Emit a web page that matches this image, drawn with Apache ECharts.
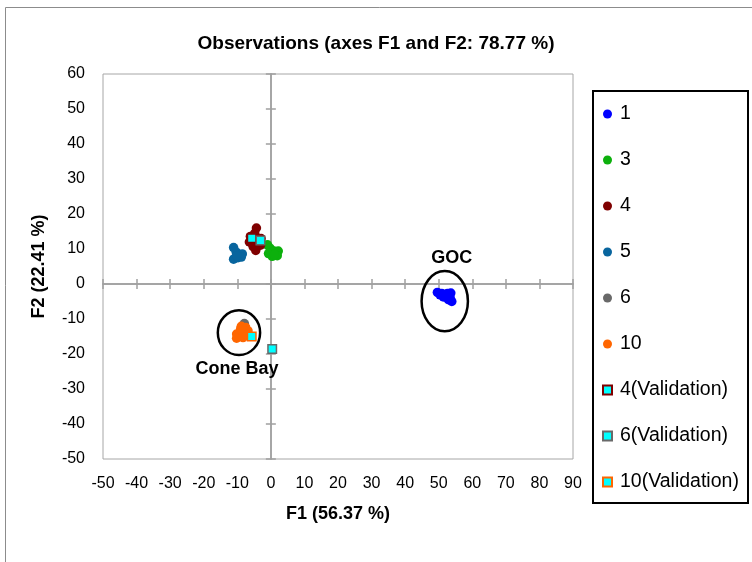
<!DOCTYPE html>
<html>
<head>
<meta charset="utf-8">
<script src="https://cdn.jsdelivr.net/npm/echarts@6/dist/echarts.min.js"></script>
<style>
  html, body { margin: 0; padding: 0; background: #fff; }
  #chart { width: 752px; height: 562px; }
</style>
</head>
<body>
<div id="chart"></div>
<script>
// Axis ranges (PCA factor scores)
const xRange = [-50, 90];
const yRange = [-50, 60];
const tickStep = 10;

// Series names, in legend order
const seriesNames = ['1', '3', '4', '5', '6', '10', '4(Validation)', '6(Validation)', '10(Validation)'];

// Observations: [F1, F2]
const obs1 = [[49.6, -2.4], [50.4, -3.1], [51.4, -3.7], [52.6, -2.7], [53.6, -2.6], [53.4, -3.9], [53.9, -5.0], [52.9, -4.5], [52.1, -3.4], [50.9, -2.7]];
const obs3 = [[-1.0, 11.2], [-0.2, 10.2], [0.9, 9.4], [2.2, 9.4], [1.9, 8.1], [0.4, 7.9], [-0.7, 8.7], [1.0, 8.4]];
const obs4 = [[-4.3, 16.0], [-4.8, 14.5], [-6.1, 13.6], [-6.4, 12.0], [-5.3, 10.7], [-4.5, 9.6], [-3.1, 11.1], [-2.9, 13.0], [-4.6, 12.2]];
const obs5 = [[-11.1, 10.4], [-10.3, 9.1], [-11.1, 7.1], [-9.8, 7.5], [-8.5, 8.6], [-8.8, 7.7], [-10.2, 8.1]];
const obs6 = [[-7.9, -11.3], [-8.8, -13.5], [-7.6, -14.6]];
const obs10 = [[-8.8, -12.1], [-7.5, -12.4], [-6.8, -13.4], [-10.2, -14.3], [-9.1, -13.9], [-10.2, -15.5], [-8.3, -15.3], [-7.5, -14.3], [-9.0, -12.8]];
const val4 = [[-5.7, 13.1]];
const val6 = [[-3.1, 12.4], [0.4, -18.6]];
const val10 = [[-5.7, -15.0]];

// Group annotations: ellipse centre and radii in F1/F2 units, plus label anchor
const groupNames = ['GOC', 'Cone Bay'];
const groupCentres = [[51.8, -4.9], [-9.5, -13.9]];
const groupRadii = [[6.9, 8.6], [6.3, 6.4]];
const groupLabelAt = [[53.9, 7.4], [-10.1, -24.3]];

const FONT = 'Liberation Sans';
const GRID = { left: 103, top: 74, width: 470, height: 385 };
const ZERO_LINE = '#a0a0a0';

function rangeAxis(range, extra) {
  return Object.assign({
    type: 'value', min: range[0], max: range[1], interval: tickStep,
    splitLine: { show: false }
  }, extra);
}

// Axes that carry the cross ticks on the zero lines
function zeroAxis(grid, pos, range) {
  return rangeAxis(range, {
    gridIndex: grid, position: pos,
    axisLine: { show: true, onZero: true, lineStyle: { color: ZERO_LINE, width: 1.5 } },
    axisTick: { show: true, length: 5, lineStyle: { color: ZERO_LINE, width: 1.5 } },
    axisLabel: { show: false }
  });
}

const circle = (name, data, color) => ({
  name, type: 'scatter', data, symbol: 'circle', symbolSize: 9.5,
  xAxisIndex: 0, yAxisIndex: 0,
  itemStyle: { color, opacity: 1 }
});
const square = (name, data, border) => ({
  name, type: 'scatter', data, symbol: 'rect', symbolSize: 8.5,
  xAxisIndex: 0, yAxisIndex: 0,
  itemStyle: { color: '#00ffff', borderColor: border, borderWidth: 1.5, opacity: 1 }
});

const chart = echarts.init(document.getElementById('chart'), null, { renderer: 'canvas' });

chart.setOption({
  animation: false,
  backgroundColor: '#ffffff',
  textStyle: { fontFamily: FONT },
  title: {
    text: 'Observations (axes F1 and F2: 78.77 %)',
    left: 'center', top: 34, padding: 0,
    textStyle: { fontFamily: FONT, fontSize: 19, fontWeight: 'bold', color: '#000' }
  },
  grid: [
    Object.assign({ show: true, borderColor: '#a6a6a6', borderWidth: 1, backgroundColor: 'transparent' }, GRID),
    Object.assign({}, GRID),
    Object.assign({}, GRID)
  ],
  xAxis: [
    rangeAxis(xRange, {
      gridIndex: 0, position: 'bottom',
      name: 'F1 (56.37 %)', nameLocation: 'middle', nameGap: 46,
      nameTextStyle: { fontFamily: FONT, fontSize: 18, fontWeight: 'bold', color: '#000' },
      axisLine: { show: false, onZero: false },
      axisTick: { show: false },
      axisLabel: { margin: 17, fontFamily: FONT, fontSize: 16, color: '#000' }
    }),
    zeroAxis(1, 'bottom', xRange),
    zeroAxis(2, 'top', xRange)
  ],
  yAxis: [
    rangeAxis(yRange, {
      gridIndex: 0, position: 'left',
      name: 'F2 (22.41 %)', nameLocation: 'middle', nameGap: 55,
      nameTextStyle: { fontFamily: FONT, fontSize: 18, fontWeight: 'bold', color: '#000' },
      axisLine: { show: false, onZero: false },
      axisTick: { show: false },
      axisLabel: { margin: 18, fontFamily: FONT, fontSize: 16, color: '#000' }
    }),
    zeroAxis(1, 'left', yRange),
    zeroAxis(2, 'right', yRange)
  ],
  legend: {
    data: seriesNames,
    orient: 'vertical', left: 602, top: 104, padding: 0,
    itemWidth: 9, itemHeight: 9, itemGap: 26,
    textStyle: { fontFamily: FONT, fontSize: 19.5, lineHeight: 20, color: '#000', padding: [0, 0, 0, 3] }
  },
  series: [
    circle('1', obs1, '#0000ff'),
    circle('3', obs3, '#0cb00c'),
    circle('4', obs4, '#7f0000'),
    circle('5', obs5, '#08659e'),
    circle('6', obs6, '#696969'),
    circle('10', obs10, '#ff6600'),
    square('4(Validation)', val4, '#7f0000'),
    square('6(Validation)', val6, '#696969'),
    square('10(Validation)', val10, '#ff6600')
  ]
});

// Frames, group ellipses and group labels placed through the data scale
const toPx = p => chart.convertToPixel({ xAxisIndex: 0, yAxisIndex: 0 }, p);
const graphics = [
  { type: 'rect', silent: true, z: -1, shape: { x: 5.5, y: 7.5, width: 800, height: 600 },
    style: { fill: 'none', stroke: '#8c8c8c', lineWidth: 1 } },
  { type: 'rect', silent: true, shape: { x: 593, y: 91, width: 155, height: 412 },
    style: { fill: 'none', stroke: '#000', lineWidth: 2 } }
];
groupNames.forEach((name, i) => {
  const c = toPx(groupCentres[i]);
  const e = toPx([groupCentres[i][0] + groupRadii[i][0], groupCentres[i][1] + groupRadii[i][1]]);
  graphics.push({
    type: 'ellipse', silent: true, z: 10,
    shape: { cx: c[0], cy: c[1], rx: Math.abs(e[0] - c[0]), ry: Math.abs(e[1] - c[1]) },
    style: { fill: 'none', stroke: '#000', lineWidth: 2.5 }
  });
  const t = toPx(groupLabelAt[i]);
  graphics.push({
    type: 'text', silent: true, z: 10, x: t[0], y: t[1],
    style: { text: name, fill: '#000', font: 'bold 18px "' + FONT + '"', align: 'center', verticalAlign: 'middle' }
  });
});
chart.setOption({ graphic: graphics });
</script>
</body>
</html>
